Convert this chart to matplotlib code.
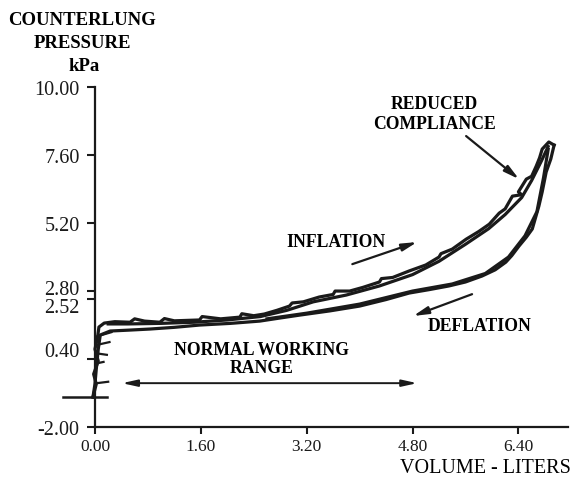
import matplotlib
matplotlib.use("Agg")
import matplotlib.pyplot as plt
import matplotlib.transforms as mtransforms

# ---- data ----
inflation_x = [-0.03, 0.02, -0.02, 0.05, 0.0, 0.04, 0.06, 0.14, 0.30, 0.53, 0.60, 0.75, 0.98, 1.05, 1.20,
               1.58, 1.62, 1.90, 2.19, 2.22, 2.40, 2.56, 2.75, 2.94, 2.98, 3.15, 3.39, 3.60, 3.63, 3.85,
               4.05, 4.30, 4.33, 4.50, 4.75, 5.00, 5.20, 5.23, 5.40, 5.61, 5.80, 5.96, 6.11, 6.20, 6.31,
               6.45, 6.40, 6.52, 6.60, 6.67, 6.72, 6.76, 6.86, 6.94]
inflation_y = [-0.94, -0.48, -0.13, 0.33, 0.75, 1.18, 1.53, 1.67, 1.72, 1.70, 1.82, 1.74, 1.70, 1.83, 1.75,
               1.78, 1.90, 1.82, 1.88, 2.00, 1.93, 1.99, 2.12, 2.27, 2.38, 2.42, 2.59, 2.68, 2.80, 2.80,
               2.93, 3.12, 3.24, 3.28, 3.51, 3.72, 4.00, 4.12, 4.28, 4.63, 4.90, 5.16, 5.55, 5.70, 6.15,
               6.20, 6.30, 6.75, 6.85, 7.21, 7.50, 7.81, 8.06, 7.95]

inflation2_x = [0.20, 0.50, 1.00, 1.50, 2.00, 2.50, 2.90, 3.30, 3.80, 4.30, 4.80, 5.20, 5.60, 5.95,
                6.20, 6.45, 6.60, 6.75, 6.85]
inflation2_y = [1.64, 1.64, 1.66, 1.70, 1.78, 1.90, 2.12, 2.42, 2.66, 2.98, 3.38, 3.85, 4.45, 5.00,
                5.50, 6.10, 6.70, 7.40, 7.90]

deflation_x = [6.94, 6.89, 6.82, 6.76, 6.71, 6.61, 6.52, 6.41, 6.30, 6.21, 6.05, 5.85, 5.60, 5.35, 5.05,
               4.75, 4.40, 4.00, 3.55, 3.09, 2.80, 2.49, 2.05, 1.58, 1.20, 0.83, 0.50, 0.23, 0.08, 0.05,
               0.02, 0.0, -0.03]
deflation_y = [7.95, 7.46, 7.00, 6.30, 5.80, 4.99, 4.70, 4.39, 4.05, 3.82, 3.55, 3.33, 3.12, 2.98, 2.85,
               2.73, 2.50, 2.27, 2.10, 1.95, 1.85, 1.74, 1.66, 1.60, 1.52, 1.46, 1.42, 1.39, 1.25, 0.75,
               0.05, -0.48, -0.94]

deflation2_x = [6.85, 6.78, 6.68, 6.50, 6.25, 5.90, 5.40, 4.80, 4.00, 3.20, 2.60]
deflation2_y = [7.80, 6.80, 5.60, 4.75, 4.00, 3.42, 3.05, 2.80, 2.34, 2.02, 1.82]

# small spikes on the near-vertical start of the loop
spike_y = [1.20, 0.90, 0.60, 0.25, -0.45]
spike_end_x = [0.25, 0.22, 0.18, 0.13, 0.20]
spike_end_y = [1.35, 1.00, 0.55, 0.30, -0.40]

baseline_x = [-0.48, 0.18]
baseline_y = [-0.94, -0.94]

x_ticks = [0.00, 1.60, 3.20, 4.80, 6.40]
x_tick_labels = ["0.00", "1.60", "3.20", "4.80", "6.40"]
y_ticks = [10.00, 7.60, 5.20, 2.80, 2.52, 0.40, -2.00]
y_tick_labels = ["10.00", "7.60", "5.20", "2.80", "2.52", "0.40", "-2.00"]

SERIF = ["Liberation Serif", "DejaVu Serif"]
INK = "#1a1a1a"

fig = plt.figure(figsize=(5.79, 4.81), dpi=100)
ax = fig.add_axes([0.164, 0.110, 0.817, 0.707])
ax.set_xlim(0, 7.15)
ax.set_ylim(-2.0, 10.0)

lw = 2.3
for xs, ys in [(inflation_x, inflation_y), (inflation2_x, inflation2_y),
               (deflation_x, deflation_y), (deflation2_x, deflation2_y)]:
    ax.plot(xs, ys, color=INK, lw=lw, solid_joinstyle="round", clip_on=False)
ax.plot(baseline_x, baseline_y, color=INK, lw=1.8, clip_on=False)
for sy, ex, ey in zip(spike_y, spike_end_x, spike_end_y):
    ax.plot([0.03, ex], [sy, ey], color=INK, lw=1.6, clip_on=False)

# axes styling
for s in ["top", "right"]:
    ax.spines[s].set_visible(False)
for s in ["left", "bottom"]:
    ax.spines[s].set_linewidth(1.6)
    ax.spines[s].set_color(INK)
ax.set_xticks(x_ticks)
ax.set_xticklabels(x_tick_labels, fontfamily=SERIF, fontsize=12.5)
ax.set_yticks(y_ticks)
ax.set_yticklabels(y_tick_labels, fontfamily=SERIF, fontsize=14.5)
ax.tick_params(axis="x", direction="out", length=5, width=1.5, pad=3, colors=INK)
ax.tick_params(axis="y", direction="out", length=6, width=1.5, pad=5, colors=INK)
# the reference prints the close 2.80 / 2.52 labels a little apart
shifts = {"2.80": 4, "2.52": -6, "0.40": 10}
for lbl in ax.get_yticklabels():
    dy = shifts.get(lbl.get_text())
    if dy:
        lbl.set_transform(lbl.get_transform() +
                          mtransforms.ScaledTranslation(0, dy / 100, fig.dpi_scale_trans))

# titles
tt = dict(fontfamily=SERIF, fontweight="bold", fontsize=13.5, ha="center", va="center")
fig.text(0.142, 0.958, "COUNTERLUNG", **tt)
fig.text(0.142, 0.910, "PRESSURE", **tt)
fig.text(0.145, 0.861, "kPa", **tt)
fig.text(0.838, 0.027, "VOLUME - LITERS", fontfamily=SERIF, fontsize=14.5, ha="center", va="center")

# annotations
tkw = dict(fontfamily=SERIF, fontweight="bold", fontsize=12.7, ha="center", va="center")
ax.text(5.13, 9.07, "REDUCED\nCOMPLIANCE", linespacing=1.2, **tkw)
ax.text(3.64, 4.56, "INFLATION", **tkw)
ax.text(5.81, 1.60, "DEFLATION", **tkw)
ax.text(2.52, 0.42, "NORMAL WORKING\nRANGE", linespacing=1.15, **tkw)

akw = dict(arrowstyle="-|>,head_length=0.9,head_width=0.22", color=INK, lw=1.6,
           shrinkA=0, shrinkB=0)
ax.annotate("", xy=(6.41, 6.75), xytext=(5.61, 8.27), arrowprops=akw)
ax.annotate("", xy=(4.87, 4.53), xytext=(3.89, 3.75), arrowprops=akw)
ax.annotate("", xy=(4.81, 1.92), xytext=(5.70, 2.69), arrowprops=akw)
ax.annotate("", xy=(4.87, -0.45), xytext=(0.41, -0.45),
            arrowprops=dict(arrowstyle="<|-|>,head_length=0.9,head_width=0.2", color=INK,
                            lw=1.4, shrinkA=0, shrinkB=0))

fig.savefig("out.png", dpi=100)
